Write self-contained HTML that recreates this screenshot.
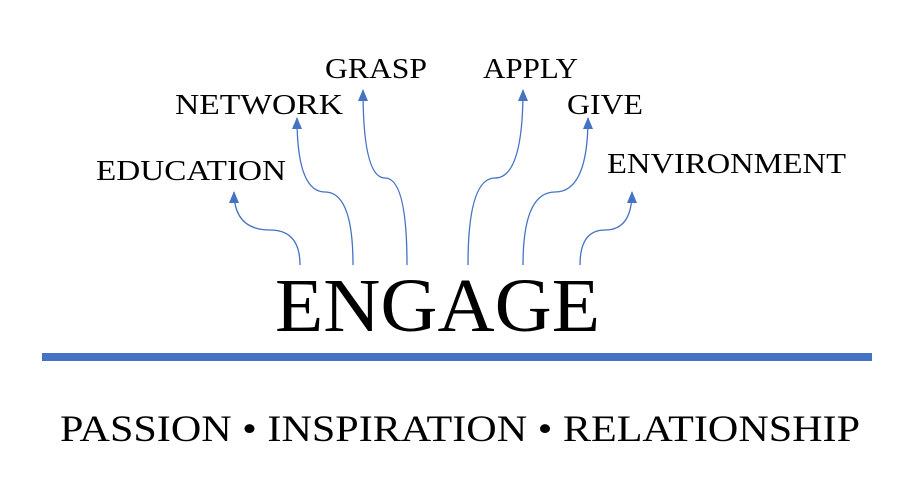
<!DOCTYPE html>
<html><head><style>
body{margin:0;background:#fff;}
svg{display:block}
text{font-family:"Liberation Serif",serif;fill:#000}
</style></head><body>
<svg width="913" height="484" viewBox="0 0 913 484">
<g fill="none" stroke="#4472c4" stroke-width="1.3">
<path d="M300,265 Q300,230 270,230 Q234,230 234,192"/>
<path d="M353,265 Q353,192 325,192 Q297,192 297,118"/>
<path d="M407,265 Q407,178 385,178 Q363,178 363,90"/>
<path d="M468,265 Q468,178 495,178 Q523,178 523,90"/>
<path d="M523,265 Q523,192 555,192 Q588,192 588,118"/>
<path d="M580,265 Q580,230 605,230 Q632,230 632,192"/>
</g>
<g fill="#4472c4">
<path d="M229,203 L234,191 L239,203Z"/>
<path d="M292,129 L297,117 L302,129Z"/>
<path d="M358,101 L363,89 L368,101Z"/>
<path d="M518,101 L523,89 L528,101Z"/>
<path d="M583,129 L588,117 L593,129Z"/>
<path d="M627,203 L632,191 L637,203Z"/>
</g>
<g font-size="28" lengthAdjust="spacingAndGlyphs">
<text x="96" y="180" textLength="190" lengthAdjust="spacingAndGlyphs">EDUCATION</text>
<text x="175" y="114" textLength="168" lengthAdjust="spacingAndGlyphs">NETWORK</text>
<text x="325" y="78" textLength="102" lengthAdjust="spacingAndGlyphs">GRASP</text>
<text x="483" y="78" textLength="95" lengthAdjust="spacingAndGlyphs">APPLY</text>
<text x="567" y="114" textLength="76" lengthAdjust="spacingAndGlyphs">GIVE</text>
<text x="607" y="173" textLength="239" lengthAdjust="spacingAndGlyphs">ENVIRONMENT</text>
</g>
<text x="275" y="331" font-size="76" textLength="325" lengthAdjust="spacingAndGlyphs">ENGAGE</text>
<rect x="42" y="353" width="830" height="8" fill="#4472c4"/>
<text x="60" y="441" font-size="37" textLength="800" lengthAdjust="spacingAndGlyphs">PASSION • INSPIRATION • RELATIONSHIP</text>
</svg>
</body></html>
